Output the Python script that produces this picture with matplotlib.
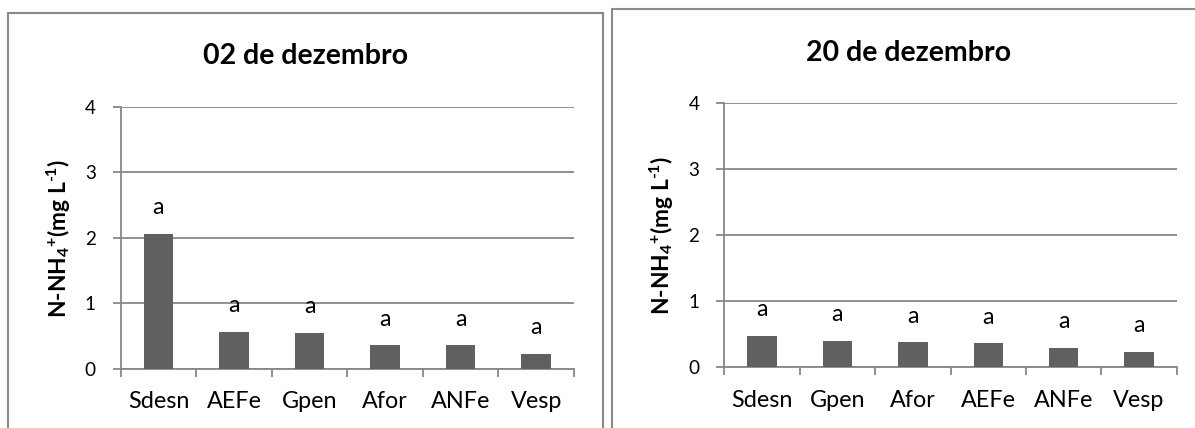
import matplotlib
matplotlib.use('Agg')
import matplotlib.pyplot as plt
import numpy as np
from matplotlib.patches import Rectangle

W, H = 1195, 428

# ---- data ----
cats1 = ['Sdesn', 'AEFe', 'Gpen', 'Afor', 'ANFe', 'Vesp']
vals1 = [2.06, 0.56, 0.55, 0.355, 0.355, 0.22]
letters1 = ['a', 'a', 'a', 'a', 'a', 'a']

cats2 = ['Sdesn', 'Gpen', 'Afor', 'AEFe', 'ANFe', 'Vesp']
vals2 = [0.465, 0.39, 0.37, 0.355, 0.28, 0.23]
letters2 = ['a', 'a', 'a', 'a', 'a', 'a']

titles = ['02 de dezembro', '20 de dezembro']
yticks = [0, 1, 2, 3, 4]
ylabel = r'N-NH$_{\mathbf{4}}{}^{\mathbf{+}}$(mg L$^{\text{-}\mathbf{1}}$)'

# ---- style ----
plt.rcParams['font.family'] = ['Lato', 'DejaVu Sans']
plt.rcParams['mathtext.fontset'] = 'custom'
plt.rcParams['mathtext.rm'] = 'Lato:bold'
plt.rcParams['mathtext.bf'] = 'Lato:bold'
plt.rcParams['mathtext.it'] = 'Lato:italic'

BAR = '#606060'
GRID = '#878787'
BORDER = '#8a8a8a'

fig = plt.figure(figsize=(W / 100, H / 100), dpi=100)


def rect(x0, y0, x1, y1):
    return [x0 / W, 1 - y1 / H, (x1 - x0) / W, (y1 - y0) / H]


panels = [
    dict(cats=cats1, vals=vals1, letters=letters1, title=titles[0],
         ax=(120.7, 106.7, 574.0, 368.5), title_xy=(305.5, 64.3),
         ylab_xy=(66.7, 238.4), border=(8.4, 13.3, 602.7)),
    dict(cats=cats2, vals=vals2, letters=letters2, title=titles[1],
         ax=(724.4, 102.7, 1176.7, 366.7), title_xy=(909.0, 61.0),
         ylab_xy=(670.1, 235.5), border=(611.7, 9.3, 1206.0)),
]

for p in panels:
    ax = fig.add_axes(rect(*p['ax']))
    n = len(p['cats'])
    x = np.arange(n) + 0.5
    ax.bar(x, p['vals'], width=0.39, color=BAR, zorder=3)
    ax.set_xlim(0, n)
    ax.set_ylim(0, 4)
    ax.set_yticks(yticks)
    ax.yaxis.grid(True, color=GRID, lw=1.3)
    ax.set_axisbelow(True)
    for s in ['top', 'right']:
        ax.spines[s].set_visible(False)
    for s in ['left', 'bottom']:
        ax.spines[s].set_color(GRID)
        ax.spines[s].set_linewidth(1.3)
    ax.set_xticks(np.arange(n + 1))
    ax.set_xticklabels([])
    ax.set_xticks(x, minor=True)
    ax.set_xticklabels(p['cats'], minor=True)
    ax.tick_params(axis='x', which='major', direction='out', length=5.5,
                   width=1.3, color=GRID)
    ax.tick_params(axis='x', which='minor', length=0, pad=16.5,
                   labelsize=16.8, labelcolor='black')
    ax.tick_params(axis='y', direction='out', length=5.5, width=1.3,
                   color=GRID, pad=12.5, labelsize=13.6, labelcolor='black')
    for xi, v, t in zip(x, p['vals'], p['letters']):
        ax.annotate(t, (xi, v), xytext=(0, 14.2), textcoords='offset points',
                    ha='center', va='baseline', fontsize=16.6, color='black')

    tx, ty = p['title_xy']
    fig.text(tx / W, 1 - ty / H, p['title'], ha='center', va='baseline',
             fontsize=20.5, fontweight='bold', color='black')
    lx, ly = p['ylab_xy']
    fig.text(lx / W, 1 - ly / H, ylabel, rotation=90, rotation_mode='anchor',
             ha='center', va='baseline', fontsize=16.4, fontweight='bold',
             color='black')
    bx0, by0, bx1 = p['border']
    fig.add_artist(Rectangle((bx0 / W, -0.1), (bx1 - bx0) / W,
                             1 - by0 / H + 0.1, transform=fig.transFigure,
                             fill=False, ec=BORDER, lw=1.5))

fig.savefig('out.png', dpi=100)
